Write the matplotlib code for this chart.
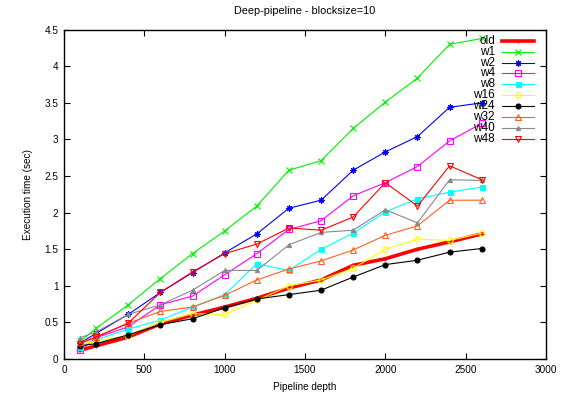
import matplotlib
matplotlib.use("Agg")
import matplotlib.pyplot as plt
from matplotlib.lines import Line2D

plt.rcParams['font.family'] = ['Liberation Sans', 'DejaVu Sans']

depth = [100, 200, 400, 600, 800, 1000, 1200, 1400, 1600, 1800, 2000, 2200, 2400, 2600]

old = [0.12, 0.18, 0.30, 0.48, 0.60, 0.71, 0.83, 0.97, 1.08, 1.28, 1.37, 1.50, 1.60, 1.71]
w1  = [0.24, 0.42, 0.74, 1.10, 1.44, 1.75, 2.09, 2.58, 2.71, 3.15, 3.51, 3.84, 4.30, 4.38]
w2  = [0.22, 0.35, 0.61, 0.91, 1.18, 1.45, 1.71, 2.06, 2.17, 2.58, 2.83, 3.04, 3.44, 3.50]
w4  = [0.12, 0.29, 0.44, 0.74, 0.86, 1.15, 1.44, 1.77, 1.89, 2.23, 2.41, 2.63, 2.98, 3.22]
w8  = [0.17, 0.26, 0.41, 0.53, 0.71, 0.88, 1.30, 1.21, 1.50, 1.72, 2.01, 2.19, 2.28, 2.35]
w16 = [0.19, 0.25, 0.32, 0.50, 0.62, 0.61, 0.80, 1.00, 1.08, 1.24, 1.50, 1.64, 1.62, 1.72]
w24 = [0.18, 0.21, 0.33, 0.47, 0.55, 0.70, 0.82, 0.88, 0.94, 1.12, 1.29, 1.35, 1.46, 1.51]
w32 = [0.23, 0.30, 0.49, 0.65, 0.71, 0.87, 1.08, 1.23, 1.34, 1.49, 1.69, 1.82, 2.17, 2.17]
w40 = [0.29, 0.37, 0.61, 0.74, 0.94, 1.21, 1.21, 1.56, 1.73, 1.76, 2.04, 1.86, 2.45, 2.44]
w48 = [0.21, 0.30, 0.49, 0.91, 1.19, 1.44, 1.57, 1.79, 1.76, 1.94, 2.41, 2.09, 2.64, 2.45]

labels = ["old", "w1", "w2", "w4", "w8", "w16", "w24", "w32", "w40", "w48"]
series = [old, w1, w2, w4, w8, w16, w24, w32, w40, w48]

styles = [
    dict(color='#ff0000', lw=2.6, marker='+', ms=3.5, mfc='#ff0000', mew=0.9),
    dict(color='#00ee00', lw=0.8, marker='x', ms=4, mew=0.8),
    dict(color='#0000ff', lw=0.8, marker=(8, 2, 0), ms=4.5, mew=0.8),
    dict(color='#ff00ff', lw=0.8, marker='s', ms=4, mfc='none', mew=0.8),
    dict(color='#00ffff', lw=0.8, marker='s', ms=3.6, mew=0.8),
    dict(color='#ffff00', lw=0.8, marker='o', ms=4, mfc='none', mew=0.8),
    dict(color='#000000', lw=0.8, marker='o', ms=3.6, mew=0.8),
    dict(color='#ff6020', lw=0.8, marker='^', ms=4.2, mfc='none', mew=0.8),
    dict(color='#888888', lw=0.8, marker='^', ms=3.0, mew=0.8),
    dict(color='#ff0000', lw=0.8, marker='v', ms=4.2, mfc='none', mew=0.8),
]

fig = plt.figure(figsize=(5.62, 3.96), dpi=100)
ax = fig.add_axes([64/562, (396-359)/396, (546-64)/562, (359-29.7)/396])

for lab, ys, st in zip(labels, series, styles):
    ax.plot(depth, ys, label=lab, **st)

ax.set_xlim(0, 3000)
ax.set_ylim(0, 4.5)
ax.set_xticks(range(0, 3001, 500))
ax.set_yticks([i * 0.5 for i in range(10)])
ax.set_yticklabels(['%g' % (i * 0.5) for i in range(10)])
ax.tick_params(direction='in', top=True, right=True, length=4, width=0.8,
               labelsize=7.2, pad=4)
for s in ax.spines.values():
    s.set_linewidth(1.0)

ax.set_xlabel("Pipeline depth", fontsize=7.2, labelpad=5)
ax.set_ylabel("Execution time (sec)", fontsize=7.2, labelpad=8)
ax.set_title("Deep-pipeline - blocksize=10", fontsize=7.8, pad=11)

# gnuplot-style key: right-aligned labels followed by line samples
x_text = (495 - 64) / 482
x0 = (502 - 64) / 482
x1 = (534 - 64) / 482
for i, (lab, st) in enumerate(zip(labels, styles)):
    ypix = 40.7 + i * 10.9
    yf = (359 - ypix) / (359 - 29.7)
    ax.text(x_text, yf, lab, transform=ax.transAxes, ha='right', va='center',
            fontsize=8.5)
    ax.add_line(Line2D([x0, x1], [yf, yf], transform=ax.transAxes,
                       color=st['color'], lw=st['lw'], clip_on=False))
    mst = {k: v for k, v in st.items() if k not in ('lw',)}
    ax.add_line(Line2D([(x0 + x1) / 2], [yf], transform=ax.transAxes,
                       linestyle='none', clip_on=False, **mst))

fig.savefig("out.png", dpi=100)
